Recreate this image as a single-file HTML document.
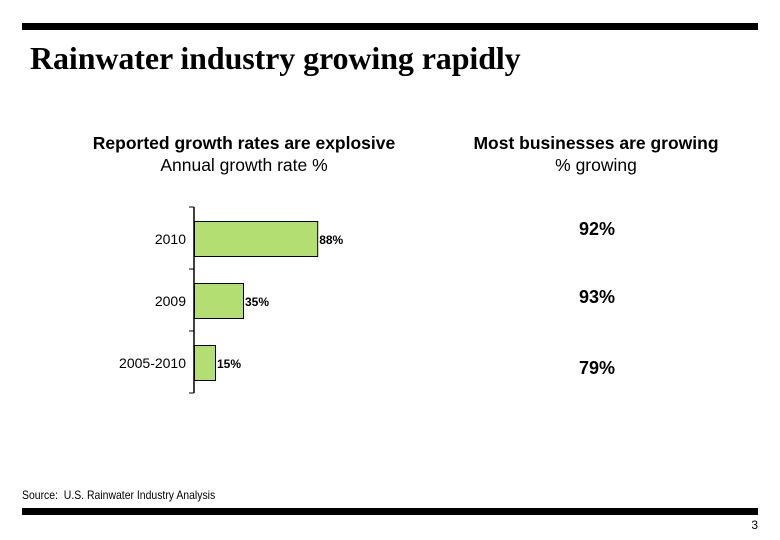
<!DOCTYPE html>
<html><head><meta charset="utf-8"><style>
body{margin:0;width:780px;height:540px;background:#fff;position:relative;overflow:hidden;font-family:"Liberation Sans",Arial,sans-serif;}
.abs{position:absolute;}
</style></head><body>
<div class="abs" style="left:22px;top:23px;width:736px;height:7px;background:#000"></div>
<div class="abs" style="left:30px;top:40px;font-family:'Liberation Serif',serif;font-weight:bold;font-size:32px;letter-spacing:-0.1px;white-space:nowrap">Rainwater industry growing rapidly</div>
<div class="abs" style="left:44px;width:400px;top:132px;text-align:center;font-size:17.5px;line-height:22px"><b>Reported growth rates are explosive</b><br>Annual growth rate %</div>
<div class="abs" style="left:446px;width:300px;top:132px;text-align:center;font-size:17.5px;line-height:22px"><b>Most businesses are growing</b><br>% growing</div>
<svg class="abs" style="left:0;top:0" width="780" height="540">
<g id="g"></g>
</svg>
<div class="abs" style="left:22px;top:488px;font-size:12px;transform:scaleX(0.87);transform-origin:0 0;white-space:nowrap">Source:&nbsp; U.S. Rainwater Industry Analysis</div>
<div class="abs" style="left:22px;top:508px;width:736px;height:7px;background:#000"></div>
<div class="abs" style="left:740px;top:518px;width:18px;text-align:right;font-size:12px">3</div>
<script>
const categories=["2010","2009","2005-2010"];
const growthValues=[88,35,15];
const growthLabels=["88%","35%","15%"];
const businessValues=["92%","93%","79%"];
const NS="http://www.w3.org/2000/svg";
const g=document.getElementById('g');
const x0=194, pxPer=1.4, yTop=207, band=62, barH=35;
const bizOffsets=[-4,2,11];
function xs(v){return x0+v*pxPer;}
function yb(i){return yTop+i*band;}
function mk(t,a){const e=document.createElementNS(NS,t);for(const k in a)e.setAttribute(k,a[k]);g.appendChild(e);return e;}
let ax=mk('line',{x1:x0,y1:yTop,x2:x0,y2:yTop+band*categories.length,stroke:'#000','stroke-width':1.5});


for(let i=0;i<=categories.length;i++){
  let t=mk('line',{x1:x0-5,y1:yb(i),x2:x0,y2:yb(i),stroke:'#000','stroke-width':1});
  
  
}
categories.forEach((c,i)=>{
  const yc=yb(i)+band/2+1;
  let r=mk('rect',{x:x0+0.5,y:yc-barH/2,width:xs(growthValues[i])-x0,height:barH,fill:'#b3df72',stroke:'#000','stroke-width':1});
  
  
  let l=mk('text',{x:x0-8,y:yc+5,'text-anchor':'end','font-size':14,'font-family':'Liberation Sans, sans-serif'});
  l.textContent=c;
  
  
  let v=mk('text',{x:xs(growthValues[i])+2,y:yc+5,'font-size':12,'font-weight':'bold','font-family':'Liberation Sans, sans-serif'});
  v.textContent=growthLabels[i];
  
  
  let b=mk('text',{x:597,y:yc+bizOffsets[i],'text-anchor':'middle','font-size':18,'font-weight':'bold','font-family':'Liberation Sans, sans-serif'});
  b.textContent=businessValues[i];
  
  
});
</script>
</body></html>
